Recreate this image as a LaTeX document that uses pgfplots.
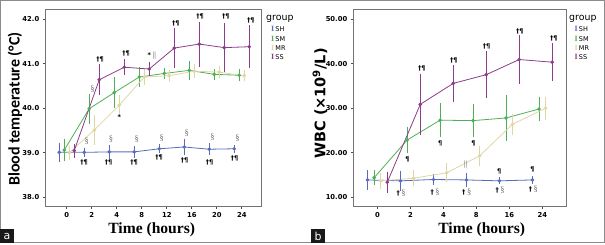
\documentclass[border=0pt]{standalone}
\usepackage{fontspec}
\usepackage{pgfplots}
\pgfplotsset{compat=1.18}
\setmainfont{DejaVu Sans}
\newfontfamily\carlito{Carlito}
\newfontfamily\dejavu{DejaVu Sans}
\newfontfamily\lserif{Liberation Serif}
\definecolor{shcol}{RGB}{88,108,190}
\definecolor{smcol}{RGB}{80,175,85}
\definecolor{mrcol}{RGB}{222,215,165}
\definecolor{sscol}{RGB}{140,60,140}
\pgfplotsset{
  ser/.style={color=#1, line width=0.8pt, mark=*, mark size=1.4pt,
    mark options={fill=#1, draw=#1, solid},
    error bars/.cd, y dir=both, y explicit,
    error bar style={line width=0.8pt, color=#1},
    error mark options={color=#1, mark size=2.5pt, line width=0.8pt}},
  panel/.style={scale only axis, clip=false,
    axis line style={black!55, line width=0.6pt},
    tick align=outside, xtick pos=bottom, ytick pos=left,
    major tick length=2.2pt,
    tick style={black!70, line width=0.6pt},
    ticklabel style={font=\dejavu\bfseries\fontsize{6.8}{7}\selectfont},
    /pgf/number format/assume math mode=true,
    height=197.4pt},
}
\newcommand{\mydagpil}{{\dejavu\bfseries\fontsize{6.5}{7}\selectfont †¶}}
\newcommand{\mypil}{{\dejavu\bfseries\fontsize{6.5}{7}\selectfont ¶}}
\newcommand{\mysect}{{\lserif\fontsize{8.5}{9}\selectfont\color{black!55}§}}
\newcommand{\mydagsect}{{\dejavu\bfseries\fontsize{6.5}{7}\selectfont †}\,\mysect}
\newcommand{\mybars}{{\lserif\fontsize{8}{8}\selectfont\color{black!70}||}}
\newcommand{\myast}{{\dejavu\bfseries\fontsize{6.5}{7}\selectfont *}}
\newcommand{\myan}[3]{\node[inner sep=0] at (axis cs:#1,#2) {#3};}
\newcommand{\legI}[1]{\textcolor{#1}{\lserif\bfseries\fontsize{8}{8}\selectfont I}}
\begin{document}
\begin{tikzpicture}[x=1pt,y=1pt]
\useasboundingbox (0,0) rectangle (605,244);
\draw[black!45, line width=0.8pt] (0.4,1.2) rectangle (604.2,243.2);
\coordinate (PA) at (45,37.3);
\coordinate (PB) at (353,37.3);
% ---------- panel a ----------
\begin{axis}[panel, at={(PA)}, anchor=south west, width=216.5pt,
  xmin=-0.87, xmax=7.79, ymin=37.79, ymax=42.22,
  xtick={0,1,2,3,4,5,6,7}, xticklabels={0,2,4,8,12,16,20,24},
  ytick={38,39,40,41,42},
  yticklabel style={/pgf/number format/.cd, fixed, fixed zerofill, precision=1}]
\addplot[ser=shcol] table[x=x, y=y, y error=e] {
x y e
-0.3 39.01 0.16
0.7 39.01 0.05
1.7 39.02 0.10
2.7 39.02 0.08
3.7 39.09 0.04
4.7 39.13 0.13
5.7 39.08 0.08
6.7 39.09 0.03
};
\addplot[ser=smcol] table[x=x, y=y, y error=e] {
x y e
-0.1 39.06 0.19
0.9 39.99 0.28
1.9 40.35 0.30
2.9 40.70 0.17
3.9 40.78 0.06
4.9 40.85 0.15
5.9 40.76 0.06
6.9 40.74 0.08
};
\addplot[ser=mrcol] table[x=x, y=y, y error=e] {
x y e
0.1 39.00 0.10
1.1 39.51 0.28
2.1 40.07 0.18
3.1 40.70 0.12
4.1 40.73 0.08
5.1 40.83 0.10
6.1 40.81 0.08
7.1 40.73 0.07
};
\addplot[ser=sscol] table[x=x, y=y, y error=e] {
x y e
0.3 39.05 0.10
1.3 40.64 0.29
2.3 40.92 0.12
3.3 40.88 0.10
4.3 41.35 0.40
5.3 41.44 0.45
6.3 41.36 0.50
7.3 41.38 0.43
};
\myan{1.33}{41.1}{\mydagpil}
\myan{2.37}{41.24}{\mydagpil}
\myan{4.36}{41.9}{\mydagpil}
\myan{5.33}{42.06}{\mydagpil}
\myan{6.36}{42.06}{\mydagpil}
\myan{7.36}{41.98}{\mydagpil}
\myan{0.69}{38.79}{\mydagpil}
\myan{1.67}{38.79}{\mydagpil}
\myan{2.69}{38.79}{\mydagpil}
\myan{3.69}{38.9}{\mydagpil}
\myan{4.71}{38.82}{\mydagpil}
\myan{5.71}{38.79}{\mydagpil}
\myan{6.71}{38.88}{\mydagpil}
\myan{1.03}{40.43}{\mysect}
\myan{0.8}{39.25}{\mysect}
\myan{1.77}{39.3}{\mysect}
\myan{2.8}{39.3}{\mysect}
\myan{3.8}{39.32}{\mysect}
\myan{4.8}{39.44}{\mysect}
\myan{5.83}{39.35}{\mysect}
\myan{6.83}{39.33}{\mysect}
\myan{3.4}{41.18}{\myast\,\mybars}
\myan{2.1}{39.8}{\myast}
\end{axis}
% ---------- panel b ----------
\begin{axis}[panel, at={(PB)}, anchor=south west, width=213.7pt,
  xmin=-0.74, xmax=5.74, ymin=7.9, ymax=52.16,
  xtick={0,1,2,3,4,5}, xticklabels={0,2,4,8,16,24},
  ytick={10,20,30,40,50},
  yticklabel style={/pgf/number format/.cd, fixed, fixed zerofill, precision=2}]
\addplot[ser=shcol] table[x=x, y=y, y error=e] {
x y e
-0.3 13.9 1.6
0.7 13.7 1.7
1.7 14.0 0.6
2.7 13.9 1.1
3.7 13.7 0.2
4.7 13.9 0.4
};
\addplot[ser=smcol] table[x=x, y=y, y error=e] {
x y e
-0.1 14.4 1.1
0.9 22.85 2.4
1.9 27.3 3.25
2.9 27.2 3.2
3.9 27.8 4.5
4.9 29.8 2.2
};
\addplot[ser=mrcol] table[x=x, y=y, y error=e] {
x y e
0.1 13.7 1.2
1.1 14.3 1.2
2.1 15.5 1.6
3.1 19.3 1.7
4.1 26.4 1.8
5.1 30.0 2.0
};
\addplot[ser=sscol] table[x=x, y=y, y error=e] {
x y e
0.3 13.4 1.8
1.3 30.85 6.35
2.3 35.55 3.55
3.3 37.5 4.7
4.3 40.9 4.9
5.3 40.3 3.7
};
\myan{1.35}{38.9}{\mydagpil}
\myan{2.32}{40.8}{\mydagpil}
\myan{3.31}{43.8}{\mydagpil}
\myan{4.32}{47.1}{\mydagpil}
\myan{5.35}{45.6}{\mydagpil}
\myan{0.91}{18.5}{\mypil}
\myan{1.9}{22.0}{\mypil}
\myan{2.91}{22.0}{\mypil}
\myan{3.69}{15.9}{\mypil}
\myan{4.7}{16.3}{\mypil}
\myan{2.68}{17.3}{\mybars}
\myan{0.72}{10.9}{\mydagsect}
\myan{1.75}{11.1}{\mydagsect}
\myan{2.71}{11.1}{\mydagsect}
\myan{3.72}{11.5}{\mydagsect}
\myan{4.73}{11.8}{\mydagsect}
\end{axis}
% ---------- labels ----------
\node[rotate=90, inner sep=0] at (15,135) {\carlito\bfseries\fontsize{16}{17}\selectfont Blood temperature (°C)};
\node[rotate=90, inner sep=0] at (320,140.5) {\dejavu\bfseries\fontsize{14.5}{15}\selectfont WBC (×10\textsuperscript{9}/L)};
\node[anchor=base, inner sep=0] at (151.7,10.7) {\lserif\bfseries\fontsize{15.6}{16}\selectfont Time (hours)};
\node[anchor=base, inner sep=0] at (481.7,10.7) {\lserif\bfseries\fontsize{15.6}{16}\selectfont Time (hours)};
% legends
\foreach \lx/\gx in {271/266, 574.5/569} {
  \node[anchor=base west, inner sep=0] at (\gx,223.5) {\dejavu\fontsize{9.4}{10}\selectfont group};
  \node[anchor=west, inner sep=0] at (\lx,215) {\dejavu\fontsize{6.5}{7}\selectfont\legI{shcol}\,SH};
  \node[anchor=west, inner sep=0] at (\lx,205.5) {\dejavu\fontsize{6.5}{7}\selectfont\legI{smcol}\,SM};
  \node[anchor=west, inner sep=0] at (\lx,196) {\dejavu\fontsize{6.5}{7}\selectfont\legI{mrcol}\,MR};
  \node[anchor=west, inner sep=0] at (\lx,187) {\dejavu\fontsize{6.5}{7}\selectfont\legI{sscol}\,SS};
}
% panel letters
\fill[black!90] (0,0.8) rectangle (14,14.8);
\node[white, inner sep=0] at (7,7.8) {\dejavu\fontsize{11}{12}\selectfont a};
\fill[black!90] (311,1) rectangle (325,15);
\node[white, inner sep=0] at (318,8) {\dejavu\fontsize{11}{12}\selectfont b};
\end{tikzpicture}
\end{document}
